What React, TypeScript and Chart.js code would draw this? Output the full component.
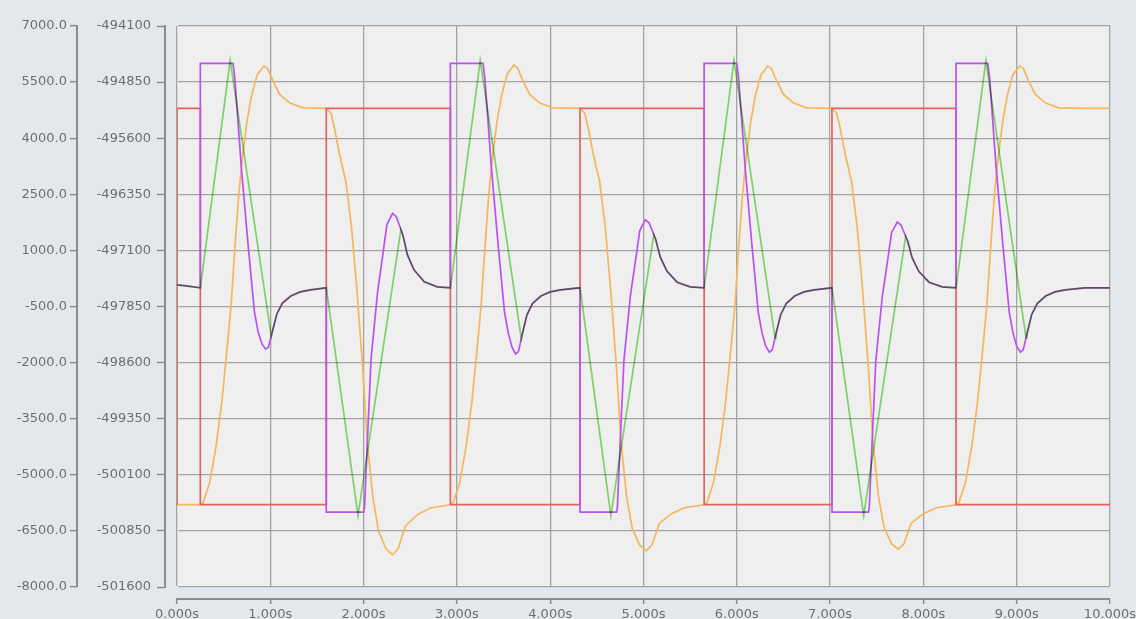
import { useEffect, useRef } from 'react';
import { Chart, registerables } from 'chart.js';

Chart.register(...registerables);

// Axis tick values
const leftTicks = [7000, 5500, 4000, 2500, 1000, -500, -2000, -3500, -5000, -6500, -8000];
const rightTicks = [-494100, -494850, -495600, -496350, -497100, -497850, -498600, -499350, -500100, -500850, -501600];
const timeTicks = [0, 1, 2, 3, 4, 5, 6, 7, 8, 9, 10];

// Setpoint square wave: [time s, level] — level holds until the next time
const setpoint: [number, number][] = [
  [0, -5800], [0.25, 4800], [1.6, -5800], [2.93, 4800], [4.32, -5800],
  [5.65, 4800], [7.02, -5800], [8.35, 4800], [9.73, -5800], [10, -5800],
];

// Commanded value
const command: [number, number][] = [
  [0, 80], [0.1, 50], [0.25, 0], [0.25, 6000], [0.6, 6000], [0.62, 5600], [0.69, 3200], [0.76, 1200],
  [0.83, -650], [0.87, -1180], [0.91, -1500], [0.95, -1640], [0.98, -1590], [1.02, -1190], [1.07, -700],
  [1.13, -410], [1.22, -220], [1.32, -110], [1.43, -55], [1.6, 0],
  [1.6, -6000], [2.0, -6000], [2.01, -5880], [2.04, -4140], [2.08, -1900], [2.15, -110], [2.2, 780],
  [2.25, 1690], [2.31, 1990], [2.35, 1900], [2.42, 1420], [2.47, 880], [2.54, 480], [2.65, 160], [2.79, 25], [2.93, 0],
  [2.93, 6000], [3.28, 6000], [3.3, 5600], [3.37, 3200], [3.44, 1200], [3.51, -650], [3.55, -1200],
  [3.59, -1580], [3.63, -1770], [3.66, -1700], [3.7, -1250], [3.75, -730], [3.81, -420], [3.9, -220],
  [4.0, -110], [4.11, -55], [4.32, 0],
  [4.32, -6000], [4.71, -6000], [4.72, -5880], [4.75, -4140], [4.79, -1950], [4.86, -200], [4.91, 650],
  [4.96, 1530], [5.02, 1820], [5.06, 1740], [5.13, 1300], [5.18, 820], [5.25, 450], [5.36, 150], [5.5, 25], [5.65, 0],
  [5.65, 6000], [6.0, 6000], [6.02, 5600], [6.09, 3200], [6.16, 1200], [6.23, -650], [6.27, -1200],
  [6.31, -1560], [6.35, -1720], [6.38, -1660], [6.42, -1230], [6.47, -720], [6.53, -420], [6.62, -220],
  [6.72, -110], [6.83, -55], [7.02, 0],
  [7.02, -6000], [7.41, -6000], [7.42, -5880], [7.45, -4140], [7.49, -1950], [7.56, -220], [7.61, 620],
  [7.66, 1480], [7.72, 1760], [7.76, 1680], [7.83, 1260], [7.88, 800], [7.95, 440], [8.06, 150], [8.2, 25], [8.35, 0],
  [8.35, 6000], [8.69, 6000], [8.71, 5600], [8.78, 3200], [8.85, 1200], [8.92, -650], [8.96, -1200],
  [9.0, -1560], [9.04, -1720], [9.07, -1660], [9.11, -1230], [9.16, -720], [9.22, -420], [9.31, -220],
  [9.41, -110], [9.52, -55], [9.73, 0], [10, 0],
];

// Interpolated trajectory
const trajectory: [number, number][] = [
  [0, 80], [0.1, 50], [0.25, 0], [0.57, 6080], [1.01, -1290], [1.02, -1190], [1.07, -700], [1.13, -410],
  [1.22, -220], [1.32, -110], [1.43, -55], [1.6, 0],
  [1.94, -6090], [2.4, 1560], [2.42, 1420], [2.47, 880], [2.54, 480], [2.65, 160], [2.79, 25], [2.93, 0],
  [3.25, 6080], [3.69, -1360], [3.7, -1250], [3.75, -730], [3.81, -420], [3.9, -220], [4.0, -110], [4.11, -55], [4.32, 0],
  [4.65, -6090], [5.11, 1420], [5.13, 1300], [5.18, 820], [5.25, 450], [5.36, 150], [5.5, 25], [5.65, 0],
  [5.97, 6080], [6.41, -1340], [6.42, -1230], [6.47, -720], [6.53, -420], [6.62, -220], [6.72, -110], [6.83, -55], [7.02, 0],
  [7.36, -6090], [7.81, 1380], [7.83, 1260], [7.88, 800], [7.95, 440], [8.06, 150], [8.2, 25], [8.35, 0],
  [8.67, 6080], [9.1, -1340], [9.11, -1230], [9.16, -720], [9.22, -420], [9.31, -220], [9.41, -110], [9.52, -55],
  [9.73, 0], [10, 0],
];

// Measured response
const response: [number, number][] = [
  [0, -5800], [0.25, -5800], [0.28, -5745], [0.35, -5210], [0.42, -4220], [0.48, -3060], [0.53, -1800],
  [0.58, -460], [0.62, 1050], [0.66, 2450], [0.7, 3450], [0.75, 4450], [0.8, 5150], [0.86, 5700],
  [0.93, 5930], [0.97, 5870], [1.03, 5520], [1.1, 5170], [1.21, 4940], [1.35, 4810], [1.6, 4800],
  [1.65, 4670], [1.69, 4240], [1.74, 3590], [1.81, 2840], [1.87, 1630], [1.93, -110], [1.99, -2120],
  [2.04, -4140], [2.1, -5610], [2.16, -6500], [2.24, -6980], [2.31, -7140], [2.37, -6980], [2.45, -6360],
  [2.58, -6060], [2.72, -5880], [2.93, -5800],
  [2.96, -5745], [3.03, -5210], [3.1, -4220], [3.16, -3060], [3.21, -1800], [3.26, -460], [3.3, 1050],
  [3.34, 2450], [3.38, 3450], [3.43, 4450], [3.48, 5150], [3.54, 5720], [3.61, 5950], [3.65, 5880],
  [3.71, 5520], [3.78, 5170], [3.89, 4940], [4.03, 4810], [4.32, 4800],
  [4.37, 4670], [4.41, 4240], [4.46, 3590], [4.53, 2840], [4.59, 1630], [4.65, -110], [4.71, -2120],
  [4.76, -4140], [4.82, -5610], [4.88, -6440], [4.96, -6880], [5.03, -7030], [5.09, -6880], [5.17, -6300],
  [5.3, -6040], [5.44, -5880], [5.65, -5800],
  [5.68, -5745], [5.75, -5210], [5.82, -4220], [5.88, -3060], [5.93, -1800], [5.98, -460], [6.02, 1050],
  [6.06, 2450], [6.1, 3450], [6.15, 4450], [6.2, 5150], [6.26, 5700], [6.33, 5930], [6.37, 5870],
  [6.43, 5520], [6.5, 5170], [6.61, 4940], [6.75, 4810], [7.02, 4800],
  [7.07, 4670], [7.11, 4240], [7.16, 3590], [7.23, 2840], [7.29, 1630], [7.35, -110], [7.41, -2120],
  [7.46, -4140], [7.52, -5610], [7.58, -6420], [7.66, -6850], [7.73, -6990], [7.79, -6850], [7.87, -6290],
  [8.0, -6040], [8.14, -5880], [8.35, -5800],
  [8.38, -5745], [8.45, -5210], [8.52, -4220], [8.58, -3060], [8.63, -1800], [8.68, -460], [8.72, 1050],
  [8.76, 2450], [8.8, 3450], [8.85, 4450], [8.9, 5150], [8.96, 5700], [9.03, 5930], [9.07, 5870],
  [9.13, 5520], [9.2, 5170], [9.31, 4940], [9.45, 4810], [9.73, 4800], [10, 4800],
];

const PAGE_BG = '#e4e7eb';
const PLOT_BG = '#efefef';
const GRID = '#a3a3a3';
const AXIS = '#8c8c8c';
const TEXT = '#6e6e6e';
const FONT = { family: 'DejaVu Sans', size: 13 };

const toXY = (pts: [number, number][]) => pts.map(([x, y]) => ({ x, y }));

// Paints the page and plot backgrounds; the trajectory trace is blended with multiply
const backdrop = {
  id: 'backdrop',
  beforeDraw(chart: any) {
    const { ctx, chartArea } = chart;
    ctx.save();
    ctx.fillStyle = PAGE_BG;
    ctx.fillRect(0, 0, chart.width, chart.height);
    ctx.fillStyle = PLOT_BG;
    ctx.fillRect(chartArea.left, chartArea.top, chartArea.right - chartArea.left, chartArea.bottom - chartArea.top);
    ctx.restore();
  },
  beforeDatasetDraw(chart: any, args: any) {
    if (args.index === 0) {
      chart.ctx.save();
      chart.ctx.globalCompositeOperation = 'multiply';
    }
  },
  afterDatasetDraw(chart: any, args: any) {
    if (args.index === 0) chart.ctx.restore();
  },
};

export default function App() {
  const canvasRef = useRef<HTMLCanvasElement>(null);

  useEffect(() => {
    document.body.style.margin = '0';
    document.body.style.background = PAGE_BG;
    const line = (label: string, pts: [number, number][], color: string, extra: any = {}) => ({
      label,
      data: toXY(pts),
      borderColor: color,
      borderWidth: 1.7,
      pointRadius: 0,
      tension: 0,
      fill: false,
      xAxisID: 'x',
      yAxisID: 'y',
      ...extra,
    });

    const chart = new Chart(canvasRef.current!, {
      type: 'line',
      data: {
        datasets: [
          line('trajectory', trajectory, '#84e070'),
          line('command', command, '#bb52f0'),
          line('setpoint', setpoint, '#e2625c', { stepped: 'after' }),
          line('response', response, '#f5b65c'),
        ],
      },
      options: {
        animation: false,
        responsive: true,
        maintainAspectRatio: false,
        parsing: false as any,
        layout: { padding: { top: 26, right: 26, bottom: 0, left: 0 } },
        plugins: { legend: { display: false }, tooltip: { enabled: false } },
        scales: {
          x: {
            type: 'linear',
            position: 'bottom',
            weight: 1,
            min: 0,
            max: 10,
            afterBuildTicks: (s: any) => { s.ticks = timeTicks.map((value) => ({ value })); },
            afterFit: (s: any) => { s.height = 20; s.paddingLeft = 0; s.paddingRight = 0; },
            ticks: {
              callback: (v: any) => Number(v).toFixed(3) + 's',
              font: FONT,
              color: TEXT,
              padding: 3,
              maxRotation: 0,
              autoSkip: false,
            },
            grid: { color: GRID, lineWidth: 1.3, tickLength: 5, tickColor: AXIS, tickWidth: 1.5 },
            border: { display: true, color: AXIS, width: 2 },
          },
          xgap: {
            type: 'linear',
            position: 'bottom',
            weight: 0,
            min: 0,
            max: 10,
            afterFit: (s: any) => { s.height = 12; s.paddingLeft = 0; s.paddingRight = 0; },
            ticks: { display: false },
            grid: { display: false },
            border: { display: false },
          },
          y: {
            type: 'linear',
            position: 'left',
            weight: 3,
            min: -8000,
            max: 7000,
            afterBuildTicks: (s: any) => { s.ticks = leftTicks.map((value) => ({ value })); },
            afterFit: (s: any) => { s.width = 77; },
            ticks: {
              callback: (v: any) => Number(v).toFixed(1),
              font: FONT,
              color: TEXT,
              padding: 3,
              autoSkip: false,
            },
            grid: { color: GRID, lineWidth: 1.3, tickLength: 7, tickColor: AXIS, tickWidth: 1.5 },
            border: { display: true, color: AXIS, width: 2 },
          },
          y2: {
            type: 'linear',
            position: 'left',
            weight: 2,
            min: -501600,
            max: -494100,
            afterBuildTicks: (s: any) => { s.ticks = rightTicks.map((value) => ({ value })); },
            afterFit: (s: any) => { s.width = 88; },
            ticks: {
              callback: (v: any) => String(v),
              font: FONT,
              color: TEXT,
              padding: 6,
              autoSkip: false,
            },
            grid: { drawOnChartArea: false, tickLength: 8, tickColor: AXIS, tickWidth: 1.5, color: GRID },
            border: { display: true, color: AXIS, width: 2 },
          },
          ygap: {
            type: 'linear',
            position: 'left',
            weight: 1,
            min: -8000,
            max: 7000,
            afterFit: (s: any) => { s.width = 12; },
            ticks: { display: false },
            grid: { display: false },
            border: { display: false },
          },
        },
      } as any,
      plugins: [backdrop],
    });
    return () => chart.destroy();
  }, []);

  return (
    <div style={{ width: 1136, height: 619, position: 'relative' }}>
      <canvas ref={canvasRef} />
    </div>
  );
}
